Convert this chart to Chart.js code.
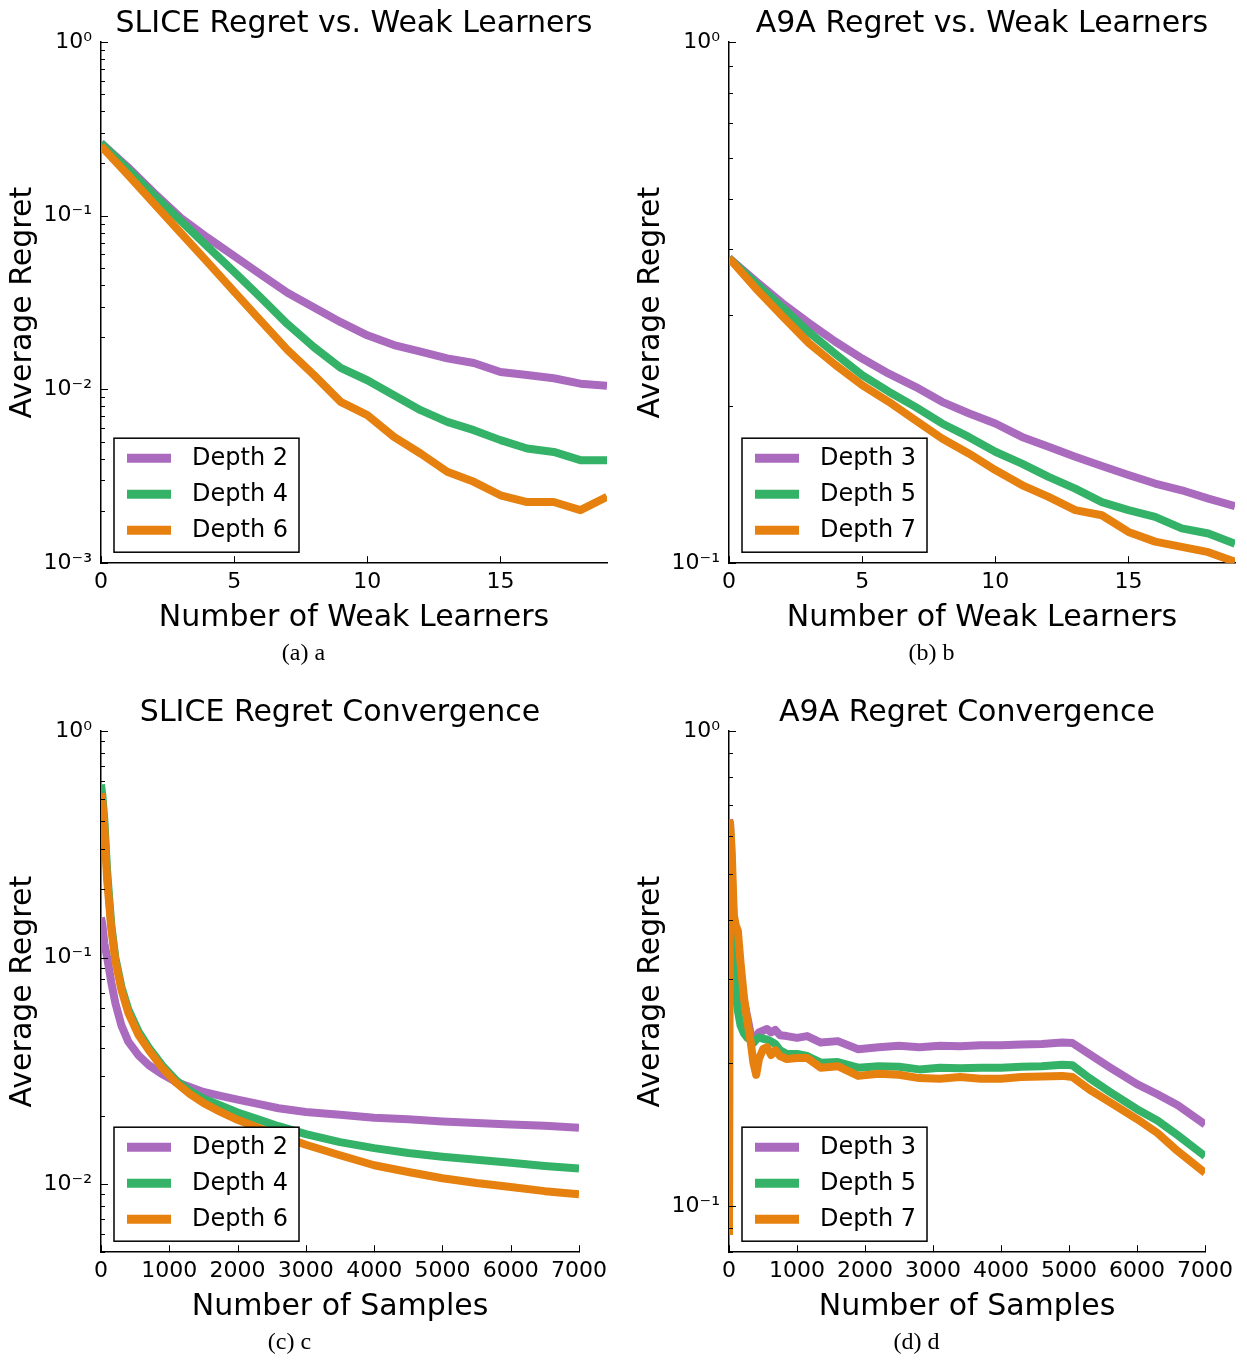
<!DOCTYPE html>
<html>
<head>
<meta charset="utf-8">
<script src="https://cdn.jsdelivr.net/npm/chart.js@4.4.1/dist/chart.umd.min.js"></script>
<style>
  body { margin: 0; background: #fff; width: 1247px; height: 1361px; position: relative; overflow: hidden; }
  canvas { position: absolute; }
</style>
</head>
<body>
<canvas id="sliceWeak" width="623" height="672" style="left:0;top:0"></canvas>
<canvas id="a9aWeak" width="619" height="672" style="left:628px;top:0"></canvas>
<canvas id="sliceConv" width="623" height="672" style="left:0;top:689px"></canvas>
<canvas id="a9aConv" width="619" height="672" style="left:628px;top:689px"></canvas>
<script>
const PURPLE = "#aa6abe";
const GREEN = "#34b268";
const ORANGE = "#e6800f";

// regret vs. number of weak learners
const weakLearners = [0, 1, 2, 3, 4, 5, 6, 7, 8, 9, 10, 11, 12, 13, 14, 15, 16, 17, 18, 19];
const weakTicks = [0, 5, 10, 15];
const sliceDepth2 = [0.262, 0.191, 0.135, 0.097, 0.0748, 0.0586, 0.0459, 0.0360, 0.0296, 0.0244, 0.0205, 0.0180, 0.0165, 0.0151, 0.0142, 0.0126, 0.0121, 0.0116, 0.0108, 0.0105];
const sliceDepth4 = [0.262, 0.186, 0.131, 0.0935, 0.0665, 0.0475, 0.0338, 0.0238, 0.0175, 0.0133, 0.0113, 0.00927, 0.00760, 0.00651, 0.00583, 0.00511, 0.00457, 0.00437, 0.00392, 0.00392];
const sliceDepth6 = [0.252, 0.1726, 0.117, 0.0795, 0.0541, 0.0366, 0.0248, 0.0169, 0.0121, 0.00849, 0.00712, 0.00534, 0.00428, 0.00336, 0.00294, 0.00246, 0.00225, 0.00225, 0.00202, 0.00241];
const a9aDepth3 = [0.385, 0.348, 0.3155, 0.289, 0.266, 0.247, 0.231, 0.218, 0.204, 0.194, 0.1854, 0.1747, 0.1672, 0.160, 0.1536, 0.1476, 0.1422, 0.138, 0.133, 0.1286];
const a9aDepth5 = [0.385, 0.3446, 0.310, 0.2776, 0.252, 0.2296, 0.2133, 0.1995, 0.1854, 0.1747, 0.1636, 0.1553, 0.1464, 0.139, 0.131, 0.1264, 0.1227, 0.1166, 0.114, 0.109];
const a9aDepth7 = [0.385, 0.337, 0.298, 0.2644, 0.240, 0.2196, 0.204, 0.188, 0.1735, 0.1624, 0.1509, 0.1412, 0.134, 0.1264, 0.1236, 0.1148, 0.110, 0.1075, 0.105, 0.1006];

// regret vs. number of samples
const sampleTicks = [0, 1000, 2000, 3000, 4000, 5000, 6000, 7000];
const sliceSamples = [0, 20, 50, 90, 150, 210, 300, 400, 550, 700, 900, 1100, 1300, 1500, 1750, 2000, 2300, 2600, 3000, 3500, 4000, 4500, 5000, 5500, 6000, 6500, 7000];
const sliceConvDepth2 = [0.15, 0.14, 0.115, 0.10, 0.078, 0.063, 0.050, 0.0425, 0.037, 0.0335, 0.0305, 0.0282, 0.0268, 0.0255, 0.0245, 0.0236, 0.0226, 0.0216, 0.0208, 0.0202, 0.0196, 0.0193, 0.0189, 0.0186, 0.0183, 0.0181, 0.0177];
const sliceConvDepth4 = [0.58, 0.52, 0.40, 0.24, 0.14, 0.100, 0.074, 0.059, 0.047, 0.040, 0.0333, 0.0287, 0.0258, 0.0238, 0.0222, 0.0207, 0.0193, 0.0180, 0.0166, 0.0153, 0.0144, 0.0137, 0.0132, 0.0128, 0.0124, 0.0120, 0.0117];
const sliceConvDepth6 = [0.53, 0.49, 0.37, 0.22, 0.135, 0.097, 0.072, 0.057, 0.0455, 0.039, 0.0325, 0.028, 0.0250, 0.0228, 0.0208, 0.0192, 0.0177, 0.0164, 0.0149, 0.0134, 0.0121, 0.0113, 0.0106, 0.0101, 0.0097, 0.0093, 0.0090];
const a9aSamples = [0, 15, 40, 70, 100, 130, 170, 220, 270, 320, 360, 400, 440, 500, 560, 620, 680, 750, 850, 1000, 1150, 1350, 1600, 1900, 2200, 2500, 2800, 3100, 3400, 3700, 4000, 4300, 4600, 4900, 5050, 5300, 5600, 6000, 6300, 6600, 7000];
const a9aConvDepth3 = [0.65, 0.64, 0.50, 0.40, 0.37, 0.34, 0.30, 0.27, 0.25, 0.23, 0.222, 0.228, 0.232, 0.234, 0.236, 0.232, 0.235, 0.229, 0.228, 0.226, 0.228, 0.221, 0.2225, 0.214, 0.216, 0.2175, 0.216, 0.2175, 0.217, 0.218, 0.218, 0.219, 0.2195, 0.221, 0.2205, 0.209, 0.196, 0.1806, 0.172, 0.163, 0.1486];
const a9aConvDepth5 = [0.646, 0.63, 0.46, 0.34, 0.277, 0.258, 0.24, 0.231, 0.226, 0.224, 0.2205, 0.224, 0.2265, 0.225, 0.2243, 0.222, 0.2195, 0.213, 0.209, 0.209, 0.207, 0.2004, 0.201, 0.1956, 0.197, 0.1965, 0.194, 0.1956, 0.195, 0.1955, 0.1956, 0.1965, 0.197, 0.1985, 0.198, 0.186, 0.174, 0.160, 0.1515, 0.141, 0.1274];
const a9aConvDepth7 = [0.087, 0.64, 0.56, 0.41, 0.39, 0.38, 0.325, 0.275, 0.245, 0.221, 0.20, 0.189, 0.204, 0.214, 0.216, 0.208, 0.213, 0.207, 0.204, 0.205, 0.205, 0.1955, 0.197, 0.188, 0.190, 0.189, 0.186, 0.1855, 0.187, 0.1855, 0.1855, 0.187, 0.1875, 0.188, 0.187, 0.176, 0.1655, 0.1525, 0.1425, 0.1305, 0.1175];

Chart.defaults.font.family = "'DejaVu Sans', sans-serif";
Chart.defaults.color = "#000";

const SUPERSCRIPT = { "-": "\u207b", "0": "\u2070", "1": "\u00b9", "2": "\u00b2", "3": "\u00b3" };

function is_decade(value) {
    const e = Math.log10(value);
    return Math.abs(e - Math.round(e)) < 1e-9;
}

// "10" followed by a superscript exponent, only for powers of ten
function decade_label(value) {
    if (!is_decade(value)) { return ""; }
    const exp = String(Math.round(Math.log10(value)));
    return "10" + exp.split("").map(c => SUPERSCRIPT[c]).join("");
}

// major and minor log ticks 1..9 x 10^n between min and max
function log_ticks(min, max) {
    const ticks = [];
    for (let n = Math.floor(Math.log10(min)); n <= Math.ceil(Math.log10(max)); n++) {
        for (let k = 1; k <= 9; k++) {
            const v = k * Math.pow(10, n);
            if (v >= min * 0.9999 && v <= max * 1.0001) { ticks.push({ value: v }); }
        }
    }
    return ticks;
}

// matplotlib-like ticks pointing into the plot area
const inwardTicks = {
    id: "inwardTicks",
    afterDraw(chart) {
        const { ctx, chartArea } = chart;
        const xScale = chart.scales.x;
        const yScale = chart.scales.y;
        ctx.save();
        ctx.strokeStyle = "#000";
        ctx.lineWidth = 1;
        ctx.beginPath();
        yScale.ticks.forEach(t => {
            const py = Math.round(yScale.getPixelForValue(t.value)) + 0.5;
            const len = is_decade(t.value) ? 7 : 4;
            ctx.moveTo(chartArea.left, py);
            ctx.lineTo(chartArea.left + len, py);
        });
        xScale.ticks.forEach(t => {
            const px = Math.round(xScale.getPixelForValue(t.value)) + 0.5;
            ctx.moveTo(px, chartArea.bottom);
            ctx.lineTo(px, chartArea.bottom - 7);
        });
        ctx.stroke();
        ctx.restore();
    }
};

// framed legend in the lower left corner of the plot area
const boxLegend = {
    id: "boxLegend",
    afterDraw(chart) {
        const { ctx, chartArea } = chart;
        const w = 185, h = 114;
        const left = chartArea.left + 13;
        const top = chartArea.bottom - 11 - h;
        ctx.save();
        ctx.fillStyle = "#fff";
        ctx.fillRect(left, top, w, h);
        ctx.strokeStyle = "#000";
        ctx.lineWidth = 1.5;
        ctx.strokeRect(left, top, w, h);
        ctx.font = "24px 'DejaVu Sans'";
        ctx.textBaseline = "middle";
        chart.data.datasets.forEach((ds, i) => {
            const cy = top + 20 + i * 36;
            ctx.strokeStyle = ds.borderColor;
            ctx.lineWidth = 9;
            ctx.beginPath();
            ctx.moveTo(left + 13, cy);
            ctx.lineTo(left + 57, cy);
            ctx.stroke();
            ctx.fillStyle = "#000";
            ctx.fillText(ds.label, left + 78, cy + 1);
        });
        ctx.restore();
    }
};

function make_dataset(label, xs, ys, color, order) {
    return {
        label: label,
        data: xs.map((x, i) => ({ x: x, y: ys[i] })),
        borderColor: color,
        borderWidth: 8,
        pointRadius: 0,
        tension: 0,
        clip: 0,
        order: order,
        borderJoinStyle: "round",
    };
}

function create_regret_chart(canvasId, cfg) {
    const config = {
        type: "line",
        data: { datasets: cfg.datasets },
        plugins: [inwardTicks, boxLegend],
        options: {
            animation: false,
            responsive: false,
            layout: { padding: { left: 0, right: cfg.padRight, top: 0, bottom: 0 } },
            scales: {
                x: {
                    type: "linear",
                    min: 0,
                    max: cfg.xMax,
                    afterBuildTicks: (scale) => { scale.ticks = cfg.xTicks.map(v => ({ value: v })); },
                    afterFit: (scale) => { scale.height = 75; },
                    ticks: { font: { size: 22 }, padding: 6, maxRotation: 0, autoSkip: false, callback: (value) => String(value) },
                    grid: { display: false, drawTicks: false },
                    border: { display: true, color: "#000", width: 1.5 },
                    title: { display: true, text: cfg.xTitle, font: { size: 30 }, padding: { top: 0, bottom: 2 } },
                },
                y: {
                    type: "logarithmic",
                    min: cfg.yMin,
                    max: 1,
                    afterBuildTicks: (scale) => { scale.ticks = log_ticks(cfg.yMin, 1); },
                    afterFit: (scale) => { scale.width = 101; },
                    ticks: { font: { size: 22 }, padding: 9, autoSkip: false, callback: (value) => decade_label(value) },
                    grid: { display: false, drawTicks: false },
                    border: { display: true, color: "#000", width: 1.5 },
                    title: { display: true, text: "Average Regret", font: { size: 30 }, padding: { top: 5, bottom: 0 } },
                },
            },
            plugins: {
                legend: { display: false },
                tooltip: { enabled: false },
                title: {
                    display: true,
                    text: cfg.title,
                    fullSize: false,
                    font: { size: 30, weight: "normal" },
                    padding: { top: 6, bottom: 0 },
                },
                subtitle: {
                    display: true,
                    position: "bottom",
                    text: cfg.caption,
                    font: { family: "'Liberation Serif', serif", size: 24 },
                    padding: { top: 1, bottom: 4 },
                },
            },
        },
    };
    return new Chart(canvasId, config);
}

create_regret_chart("sliceWeak", {
    title: "SLICE Regret vs. Weak Learners",
    caption: "(a) a",
    xTitle: "Number of Weak Learners",
    xMax: 19, xTicks: weakTicks, yMin: 0.001, padRight: 16,
    datasets: [
        make_dataset("Depth 2", weakLearners, sliceDepth2, PURPLE, 2),
        make_dataset("Depth 4", weakLearners, sliceDepth4, GREEN, 1),
        make_dataset("Depth 6", weakLearners, sliceDepth6, ORANGE, 0),
    ],
});

create_regret_chart("a9aWeak", {
    title: "A9A Regret vs. Weak Learners",
    caption: "(b) b",
    xTitle: "Number of Weak Learners",
    xMax: 19, xTicks: weakTicks, yMin: 0.1, padRight: 12,
    datasets: [
        make_dataset("Depth 3", weakLearners, a9aDepth3, PURPLE, 2),
        make_dataset("Depth 5", weakLearners, a9aDepth5, GREEN, 1),
        make_dataset("Depth 7", weakLearners, a9aDepth7, ORANGE, 0),
    ],
});

create_regret_chart("sliceConv", {
    title: "SLICE Regret Convergence",
    caption: "(c) c",
    xTitle: "Number of Samples",
    xMax: 7000, xTicks: sampleTicks, yMin: 0.005, padRight: 44,
    datasets: [
        make_dataset("Depth 2", sliceSamples, sliceConvDepth2, PURPLE, 2),
        make_dataset("Depth 4", sliceSamples, sliceConvDepth4, GREEN, 1),
        make_dataset("Depth 6", sliceSamples, sliceConvDepth6, ORANGE, 0),
    ],
});

create_regret_chart("a9aConv", {
    title: "A9A Regret Convergence",
    caption: "(d) d",
    xTitle: "Number of Samples",
    xMax: 7000, xTicks: sampleTicks, yMin: 0.08, padRight: 42,
    datasets: [
        make_dataset("Depth 3", a9aSamples, a9aConvDepth3, PURPLE, 2),
        make_dataset("Depth 5", a9aSamples, a9aConvDepth5, GREEN, 1),
        make_dataset("Depth 7", a9aSamples, a9aConvDepth7, ORANGE, 0),
    ],
});
</script>
</body>
</html>
